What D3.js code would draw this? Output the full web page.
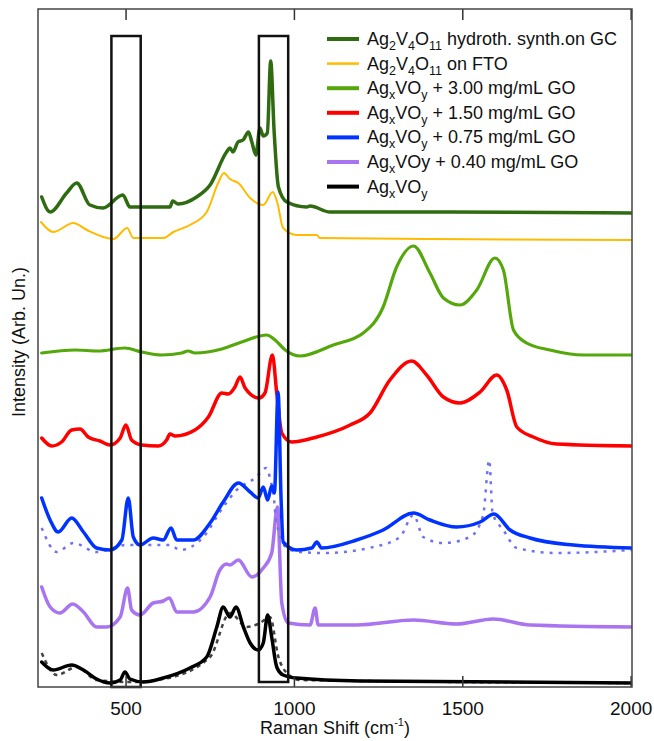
<!DOCTYPE html>
<html>
<head>
<meta charset="utf-8">
<script src="https://cdn.jsdelivr.net/npm/d3@7"></script>
<style>
	body { margin: 0; background: #fff; }
	text { font-family: 'Liberation Sans', Arial, sans-serif; fill: #111; }
</style>
</head>
<body>
<div id="chart"></div>
<script>
// spectra as [Raman shift (cm-1), intensity (arb., stacked offset included)]
var gcHydroth = [[251,490],[276,475],[325,494],[355,504],[394,482],[433,479],[492,492],[513,480],[573,480],[632,480],[640,486],[656,483],[711,490],[751,502],[800,535],[810,539],[819,535],[834,545],[849,547],[865,555],[875,545],[887,532],[899,559],[909,551],[921,554],[931,626],[941,557],[954,500],[979,485],[1038,480],[1048,481],[1107,475],[1463,475],[2004,474]];
var onFTO = [[249,465],[285,455],[345,464],[385,457],[464,448],[505,459],[523,449],[612,449],[642,455],[691,462],[741,475],[775,504],[792,514],[810,508],[835,504],[870,489],[909,482],[937,495],[951,484],[968,459],[1008,452],[1068,452],[1077,449],[1400,448],[2004,447]];
var go300 = [[251,334],[350,337],[419,336],[498,339],[548,335],[607,332],[667,334],[686,336],[706,334],[786,338],[845,345],[919,352],[944,347],[974,337],[1018,331],[1117,342],[1206,354],[1265,380],[1305,420],[1355,441],[1404,414],[1444,389],[1493,382],[1543,397],[1597,429],[1622,417],[1652,357],[1691,344],[1760,337],[1859,332],[2004,332]];
var go150 = [[251,249],[281,241],[310,245],[340,257],[365,258],[389,250],[424,246],[454,242],[484,249],[501,262],[518,247],[548,242],[597,241],[622,247],[632,253],[647,251],[706,257],[746,270],[786,294],[805,293],[825,300],[840,310],[855,299],[896,289],[914,294],[936,332],[949,294],[964,254],[993,245],[1068,250],[1167,262],[1226,274],[1285,307],[1350,326],[1394,312],[1444,290],[1493,284],[1553,295],[1602,312],[1632,297],[1662,260],[1711,250],[1780,243],[2004,241]];
var go075 = [[251,189],[276,167],[300,155],[340,169],[375,155],[414,139],[454,137],[489,147],[508,189],[523,150],[543,142],[582,149],[612,147],[635,159],[652,147],[701,147],[751,164],[790,185],[835,204],[870,195],[894,189],[909,200],[922,187],[934,201],[942,194],[953,295],[962,187],[968,145],[1008,137],[1053,139],[1068,145],[1082,139],[1186,147],[1265,157],[1355,174],[1404,167],[1483,160],[1553,165],[1594,173],[1642,157],[1701,149],[1830,142],[2004,139]];
var go075Ref = [[251,159],[296,135],[345,144],[414,135],[503,142],[563,142],[632,142],[662,137],[731,150],[790,180],[830,197],[889,210],[917,219],[929,209],[941,187],[947,167],[979,139],[1018,135],[1087,134],[1236,140],[1315,150],[1355,172],[1384,150],[1444,144],[1523,150],[1562,172],[1580,227],[1590,174],[1622,157],[1662,139],[1780,134],[2004,137]];
var go040 = [[251,100],[276,80],[305,74],[343,83],[375,75],[414,60],[444,60],[484,70],[506,99],[518,77],[543,72],[582,84],[612,86],[630,89],[652,75],[701,75],[751,90],[780,117],[800,123],[810,122],[835,127],[875,110],[909,119],[934,134],[951,180],[964,84],[983,64],[1048,62],[1063,79],[1072,62],[1186,62],[1355,67],[1483,63],[1592,68],[1701,62],[2004,60]];
var bare = [[251,25],[285,17],[340,22],[375,17],[414,8],[454,4],[484,7],[498,15],[513,8],[553,5],[612,9],[691,19],[741,30],[771,60],[790,80],[810,70],[828,80],[850,60],[870,44],[894,37],[909,44],[922,72],[934,50],[949,20],[968,12],[1008,9],[1196,6],[2004,4]];
var bareRef = [[251,34],[296,12],[355,20],[414,7],[513,5],[612,8],[751,30],[810,74],[860,60],[899,64],[929,70],[954,30],[979,14],[1018,7],[2004,4]];

var xTicks = [500, 1000, 1500, 2000];
var boxRanges = [[458, 545, 0], [896, 983, 5]];
var boxTop = 651;

var series = [
	{ name: 'gc', data: gcHydroth, color: '#2f6b10', width: 3.5, dash: null },
	{ name: 'fto', data: onFTO, color: '#ffbb00', width: 2, dash: null },
	{ name: 'go300', data: go300, color: '#55a80c', width: 3.2, dash: null },
	{ name: 'go150', data: go150, color: '#ff0000', width: 3.5, dash: null },
	{ name: 'go040', data: go040, color: '#a974f0', width: 3.5, dash: null },
	{ name: 'go075ref', data: go075Ref, color: '#7171f5', width: 2.5, dash: '3,6' },
	{ name: 'go075', data: go075, color: '#0033ff', width: 3.5, dash: null },
	{ name: 'bareref', data: bareRef, color: '#444', width: 2.5, dash: '4,4' },
	{ name: 'bare', data: bare, color: '#000', width: 3.5, dash: null }
];

var legendItems = [
	{ color: '#2f6b10', parts: [['Ag'], ['2', 1], ['V'], ['4', 1], ['O'], ['11', 1], [' hydroth. synth.on GC']] },
	{ color: '#ffbb00', parts: [['Ag'], ['2', 1], ['V'], ['4', 1], ['O'], ['11', 1], [' on FTO']] },
	{ color: '#55a80c', parts: [['Ag'], ['x', 1], ['VO'], ['y', 1], [' + 3.00 mg/mL GO']] },
	{ color: '#ff0000', parts: [['Ag'], ['x', 1], ['VO'], ['y', 1], [' + 1.50 mg/mL GO']] },
	{ color: '#0033ff', parts: [['Ag'], ['x', 1], ['VO'], ['y', 1], [' + 0.75 mg/mL GO']] },
	{ color: '#a974f0', parts: [['Ag'], ['x', 1], ['VOy + 0.40 mg/mL GO']] },
	{ color: '#000', parts: [['Ag'], ['x', 1], ['VO'], ['y', 1]] }
];

var width = 654, height = 741;
var margin = { left: 38, right: 22, top: 9, bottom: 54 };

var svg = d3.select('#chart').append('svg')
	.attr('width', width)
	.attr('height', height);

var xScale = d3.scaleLinear()
	.domain([240, 2004])
	.range([margin.left, width - margin.right]);

var yScale = d3.scaleLinear()
	.domain([0, 678])
	.range([height - margin.bottom, margin.top]);

svg.append('clipPath')
	.attr('id', 'clip')
	.append('rect')
	.attr('x', margin.left)
	.attr('y', margin.top)
	.attr('width', width - margin.left - margin.right)
	.attr('height', height - margin.top - margin.bottom);

var line = d3.line()
	.x(function(d) { return xScale(d[0]); })
	.y(function(d) { return yScale(d[1]); })
	.curve(d3.curveMonotoneX);

var linesG = svg.append('g').attr('clip-path', 'url(#clip)');

series.forEach(function(s) {
	linesG.append('path')
		.attr('d', line(s.data))
		.attr('fill', 'none')
		.attr('stroke', s.color)
		.attr('stroke-width', s.width)
		.attr('stroke-linejoin', 'round')
		.attr('stroke-linecap', s.dash ? 'butt' : 'round')
		.attr('stroke-dasharray', s.dash);
});

// highlight boxes
svg.append('g').selectAll('rect')
	.data(boxRanges)
	.enter().append('rect')
	.attr('x', function(d) { return xScale(d[0]); })
	.attr('y', yScale(boxTop))
	.attr('width', function(d) { return xScale(d[1]) - xScale(d[0]); })
	.attr('height', function(d) { return yScale(d[2]) - yScale(boxTop); })
	.attr('fill', 'none')
	.attr('stroke', '#111')
	.attr('stroke-width', 2.5);

// frame + axes
var xAxis = d3.axisBottom(xScale).tickValues(xTicks).tickFormat(d3.format('d'))
	.tickSizeInner(-11).tickSizeOuter(0).tickPadding(15);
var xAxisTop = d3.axisTop(xScale).tickValues(xTicks).tickSizeInner(-11).tickSizeOuter(0).tickFormat('');

var xAxisG = svg.append('g')
	.attr('transform', 'translate(0,' + (height - margin.bottom) + ')')
	.call(xAxis);

svg.append('g')
	.attr('transform', 'translate(0,' + margin.top + ')')
	.call(xAxisTop);

svg.selectAll('.domain').remove();
svg.selectAll('.tick line').attr('stroke', '#333').attr('stroke-width', 1.5);
xAxisG.selectAll('text')
	.attr('font-size', '19px')
	.attr('font-family', "'Liberation Sans', Arial, sans-serif")
	.attr('fill', '#111');

svg.append('rect')
	.attr('x', margin.left)
	.attr('y', margin.top)
	.attr('width', width - margin.left - margin.right)
	.attr('height', height - margin.top - margin.bottom)
	.attr('fill', 'none')
	.attr('stroke', '#444')
	.attr('stroke-width', 1.5);

var xTitle = svg.append('text')
	.attr('x', (margin.left + width - margin.right) / 2)
	.attr('y', 734)
	.attr('text-anchor', 'middle')
	.attr('font-size', '18px');
xTitle.append('tspan').text('Raman Shift (cm');
xTitle.append('tspan').attr('font-size', '11px').attr('dy', -8).text('-1');
xTitle.append('tspan').attr('dy', 8).text(')');

svg.append('text')
	.attr('transform', 'translate(25,' + ((margin.top + height - margin.bottom) / 2 - 6) + ') rotate(-90)')
	.attr('text-anchor', 'middle')
	.attr('font-size', '18px')
	.text('Intensity (Arb. Un.)');

// legend
var legend = svg.append('g').attr('transform', 'translate(327, 39)');

legendItems.forEach(function(item, i) {
	var row = legend.append('g').attr('transform', 'translate(0,' + (i * 24.6) + ')');
	row.append('line')
		.attr('x1', 0).attr('x2', 32)
		.attr('y1', 0).attr('y2', 0)
		.attr('stroke', item.color)
		.attr('stroke-width', item.color === '#ffbb00' ? 2.5 : 4);
	var t = row.append('text')
		.attr('x', 40)
		.attr('y', 6)
		.attr('font-size', '18px');
	var down = false;
	item.parts.forEach(function(p) {
		var ts = t.append('tspan').text(p[0]);
		if (p[1] && !down) { ts.attr('dy', 5).attr('font-size', '12.5px'); down = true; }
		else if (!p[1] && down) { ts.attr('dy', -5); down = false; }
		else if (p[1]) { ts.attr('font-size', '12.5px'); }
	});
});
</script>
</body>
</html>
